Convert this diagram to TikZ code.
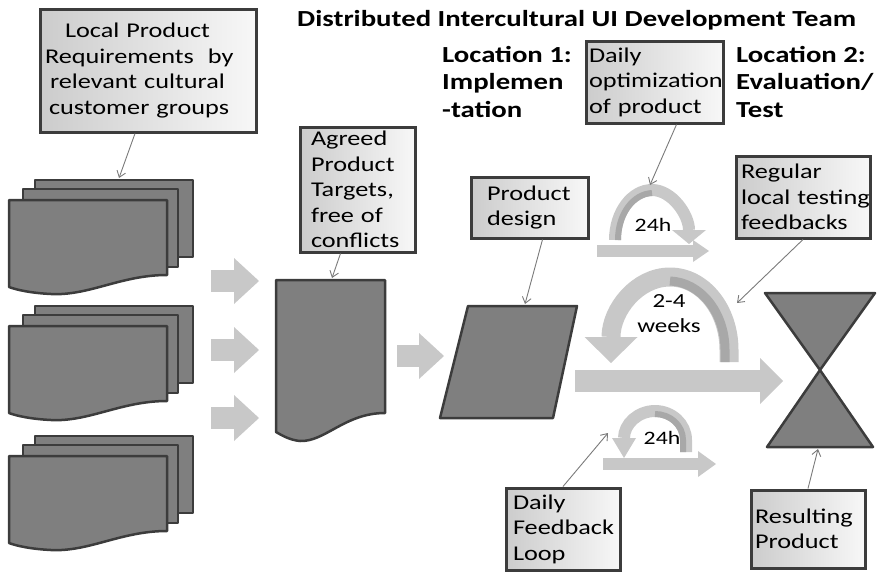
\documentclass[tikz,border=0pt]{standalone}
\usepackage{fontspec}
\setmainfont{Carlito}[FakeStretch=1.25]
\usetikzlibrary{arrows.meta}
\definecolor{docgray}{HTML}{7F7F7F}
\definecolor{edgegray}{HTML}{3C3C3C}
\definecolor{arrowgray}{HTML}{C8C8C8}
\definecolor{shadegray}{HTML}{A8A8A8}
\definecolor{pointgray}{HTML}{7A7A7A}
\newcommand\boxfont{\fontsize{21}{25.5}\selectfont}
\newcommand\headfont{\fontsize{23}{27.5}\selectfont\bfseries}
\hyphenpenalty=10000
\exhyphenpenalty=10000

\tikzset{
  infobox/.style={draw=edgegray, line width=3pt, left color=black!20, right color=black!3,
    anchor=north west, align=left, inner ysep=0pt, font=\boxfont},
  docshape/.style={draw=edgegray, line width=2.5pt, fill=docgray, line join=round},
  pointer/.style={draw=pointgray, line width=0.9pt, -{Straight Barb[length=6pt,width=9pt]}},
  blockarr/.style={draw=arrowgray, line width=22pt,
    -{Triangle[width=46pt,length=25pt,line width=0pt]}},
  bandarr/.style={draw=arrowgray},
  bandshade/.style={draw=shadegray},
  lbl/.style={inner sep=0pt, align=center},
  docstack/.pic={
    \path[docshape] (26,-20) rectangle (184,57);
    \path[docshape] (14,-11) rectangle (169,67);
    \path[docshape] (0,0) -- (158,0) -- (158,75) .. controls (112,75) and (80,96) .. (42,94)
      .. controls (22,93) and (8,90) .. (0,87) -- cycle;
    \coordinate (-top) at (110,-22);
  }
}

\begin{document}
\begin{tikzpicture}[x=1pt, y=-1pt]
  \useasboundingbox (0,0) rectangle (877,571);

  % headings
  \node[anchor=base west, inner sep=0pt, font=\headfont] (team) at (297,26)
    {Distributed Intercultural UI Development Team};
  \node[anchor=north west, inner sep=0pt, align=left, font=\headfont] (loc1) at (442,46)
    {Location 1:\\Implemen\\-tation};
  \node[anchor=north west, inner sep=0pt, align=left, font=\headfont] (loc2) at (736,46)
    {Location 2:\\Evaluation/\\Test};

  % document stacks
  \pic (stackA) at (9,200) {docstack};
  \pic (stackB) at (9,326) {docstack};
  \pic (stackC) at (9,456) {docstack};

  % agreed targets document
  \path[docshape] (276,280) -- (385,280) -- (385,413) .. controls (345,413) and (325,442) .. (300,441)
    .. controls (290,440) and (283,436) .. (276,432) -- cycle;
  \coordinate (targets-top) at (332,278);

  % product design
  \path[docshape] (468,306) -- (577,306) -- (553,418) -- (440,418) -- cycle;
  \coordinate (design-top) at (525,304);
  \coordinate (design-out) at (575,381);

  % resulting product
  \path[docshape] (765,293) -- (875,293) -- (820,370) -- cycle;
  \path[docshape] (820,370) -- (873,447) -- (767,447) -- cycle;
  \coordinate (product-in) at (783,381);
  \coordinate (product-bottom) at (818,449);

  % block arrows
  \foreach \y/\n in {281/a, 350/b, 418/c} {
    \coordinate (in\n-s) at (211,\y);
    \coordinate (in\n-e) at (259,\y);
    \draw[blockarr] (in\n-s) -- (in\n-e);
  }
  \coordinate (mid-s) at (397,356);
  \coordinate (mid-e) at (444,356);
  \draw[blockarr] (mid-s) -- (mid-e);
  \draw[blockarr, -{Triangle[width=46pt,length=23pt,line width=0pt]}] (design-out) -- (product-in);

  % daily loop, top
  \node[lbl, font=\fontsize{19}{22}\selectfont] (day-top) at (653,225) {24h};
  \coordinate (top24-s) at (615,240);
  \coordinate (top24-e) at (689,244);
  \coordinate (top24-hit) at (650,185);
  \draw[bandarr, line width=12pt, -{Triangle[width=34pt,length=14pt,line width=0pt]}]
    (top24-s) .. controls (615,212) and (632,190) .. (652,190)
    .. controls (672,190) and (689,215) .. (top24-e);
  \draw[bandshade, line width=6pt] (618,240) .. controls (618,214) and (633,194) .. (652,193);
  \coordinate (fwd-top-s) at (597,251);
  \coordinate (fwd-top-e) at (709,251);
  \draw[blockarr, line width=12pt, -{Triangle[width=22pt,length=16pt,line width=0pt]}]
    (fwd-top-s) -- (fwd-top-e);

  % regular loop
  \node[lbl, font=\fontsize{20}{25}\selectfont] (weeks) at (669,314) {2-4\\weeks};
  \coordinate (wk-s) at (729,362);
  \coordinate (wk-e) at (611,363);
  \coordinate (weeks-hit) at (737,303);
  \draw[bandarr, line width=19pt, -{Triangle[width=53pt,length=26pt,line width=0pt]}]
    (wk-s) -- (729,350) .. controls (729,310) and (703,277) .. (670,277)
    .. controls (637,277) and (611,310) .. (wk-e);
  \draw[bandshade, line width=9pt] (725,362) -- (725,350) .. controls (725,312) and (700,282) .. (670,281);

  % daily loop, bottom
  \node[lbl, font=\fontsize{19}{22}\selectfont] (day-low) at (662,438) {24h};
  \coordinate (low24-s) at (686,452);
  \coordinate (low24-e) at (624,458);
  \coordinate (low24-hit) at (608,433);
  \draw[bandarr, line width=12pt, -{Triangle[width=24pt,length=20pt,line width=0pt]}]
    (low24-s) -- (686,440) .. controls (686,424) and (672,411) .. (655,411)
    .. controls (638,411) and (624,424) .. (low24-e);
  \draw[bandshade, line width=6pt] (683,452) -- (683,440) .. controls (683,425) and (670,414) .. (655,414);
  \coordinate (fwd-low-s) at (603,464);
  \coordinate (fwd-low-e) at (716,464);
  \draw[blockarr, line width=12pt, -{Triangle[width=26pt,length=18pt,line width=0pt]}]
    (fwd-low-s) -- (fwd-low-e);

  % text boxes
  \node[infobox, text width=206pt, inner xsep=5pt, minimum height=123pt] (req) at (38.5,7.5)
    {\hspace*{20pt}Local Product\\Requirements\ \ by\\\hspace*{5pt}relevant cultural\\\hspace*{4pt}customer groups};
  \node[infobox, text width=93pt, inner xsep=11pt, minimum height=125pt] (agreed) at (298.5,125.5)
    {Agreed\\Product\\Targets,\\free of\\conflicts};
  \node[infobox, text width=85pt, inner xsep=16pt, minimum height=61pt] (design) at (469.5,175.5)
    {Product\\design};
  \node[infobox, text width=131pt, inner xsep=3pt, minimum height=82pt] (dailyopt) at (584.5,39.5)
    {Daily\\optimization\\of product};
  \node[infobox, text width=124pt, inner xsep=5pt, minimum height=82pt] (regular) at (734.5,154.5)
    {Regular\\\mbox{local testing}\\feedbacks};
  \node[infobox, text width=100pt, inner xsep=7pt, minimum height=82pt] (feedback) at (504.5,486.5)
    {Daily\\Feedback\\Loop};
  \node[infobox, text width=106pt, inner xsep=4pt, minimum height=78pt] (result) at (749.5,488.5)
    {Resulting\\Product};

  % pointers
  \draw[pointer] ([xshift=-13pt]req.south) -- (stackA-top);
  \draw[pointer] ([xshift=-17pt]agreed.south) -- (targets-top);
  \draw[pointer] ([xshift=13pt]design.south) -- (design-top);
  \draw[pointer] ([xshift=22pt]dailyopt.south) -- (top24-hit);
  \draw[pointer] (regular.south) -- (weeks-hit);
  \draw[pointer] (feedback.north) -- (low24-hit);
  \draw[pointer] (result.north) -- (product-bottom);
\end{tikzpicture}
\end{document}
